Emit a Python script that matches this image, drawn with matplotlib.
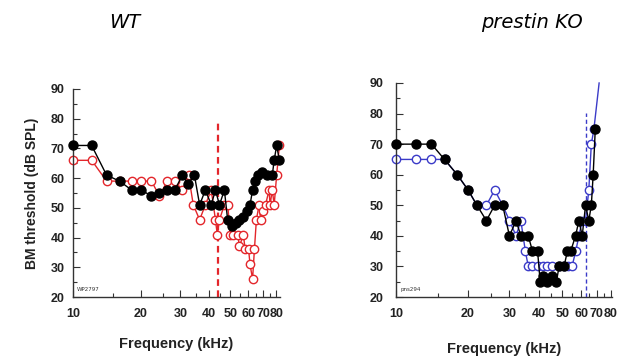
import matplotlib
matplotlib.use("Agg")
import matplotlib.pyplot as plt
from matplotlib.ticker import FixedLocator, NullFormatter

# ---------------- data ----------------
wt_black_f = [10, 12.1, 14.1, 16.1, 18.2, 20.1, 22.3, 24.2, 26.2, 28.3, 30.6, 32.4, 34.6,
              36.5, 38.7, 41.1, 42.9, 44.7, 47.0, 48.6, 50.8, 53.0, 54.8, 57.1, 59.0,
              61.1, 62.7, 64.6, 66.6, 69.4, 72.5, 76.7, 78.2, 80.2, 82.5]
wt_black_db = [71, 71, 61, 59, 56, 56, 54, 55, 56, 56, 61, 58, 61,
               51, 56, 51, 56, 51, 56, 46, 44, 45, 46, 47, 49,
               51, 56, 59, 61, 62, 61, 61, 66, 71, 66]

wt_red_f = [10, 12.1, 14.1, 16.1, 18.2, 20.1, 22.3, 24.2, 26.2, 28.3, 30.6, 32.6, 34.2,
            36.5, 38.7, 41.1, 42.9, 43.7, 44.7, 47.0, 48.6, 50.0, 51.5, 53.9, 54.8,
            57.1, 58.1, 60.2, 61.1, 62.7, 63.9, 65.2, 67.0, 68.1, 69.8, 71.6, 74.2,
            75.0, 76.7, 78.2, 80.2, 82.5]
wt_red_db = [66, 66, 59, 59, 59, 59, 59, 54, 59, 59, 56, 61, 51,
             46, 51, 56, 46, 41, 46, 51, 51, 41, 41, 41, 37,
             41, 36, 36, 31, 26, 36, 46, 51, 46, 49, 51, 56,
             51, 56, 51, 61, 71]

ko_black_f = [10, 12.1, 14.1, 16.0, 18.1, 20.1, 21.9, 24.0, 26.0, 28.1, 30.0, 32.0, 33.5,
              36.0, 37.5, 39.4, 40.4, 41.6, 43.3, 45.5, 47.3, 48.5, 50.9, 52.6, 54.3,
              56.9, 58.8, 60.7, 62.7, 64.7, 66.3, 67.5, 68.9]
ko_black_db = [70, 70, 70, 65, 60, 55, 50, 45, 50, 50, 40, 45, 40,
               40, 35, 35, 25, 27, 25, 27, 25, 30, 30, 35, 35,
               40, 45, 40, 50, 45, 50, 60, 75]

ko_blue_f = [10, 12.1, 14.1, 16.0, 18.1, 20.1, 21.9, 24.0, 26.0, 28.1, 30.0, 32.0, 33.5,
             35.0, 36.0, 37.5, 39.4, 41.6, 43.3, 45.5, 48.5, 50.9, 53.0, 55.0,
             57.0, 58.8, 60.7, 62.7, 64.7, 66.3, 68.0, 71.5]
ko_blue_db = [65, 65, 65, 65, 60, 55, 50, 50, 55, 50, 45, 40, 45,
              35, 30, 30, 30, 30, 30, 30, 30, 30, 30, 30,
              35, 40, 45, 45, 55, 70, 75, 90]

wt_cut_f = 44.0
ko_cut_f = 63.0

x_ticks = [10, 20, 30, 40, 50, 60, 70, 80]
x_minor = [15, 25, 35, 45, 55, 65, 75]
y_ticks = [20, 30, 40, 50, 60, 70, 80, 90]
y_minor = [25, 35, 45, 55, 65, 75, 85]

RED = "#e3262b"
BLUE = "#3b3bc8"
TICKFONT = dict(family="Liberation Sans", weight="bold", size=9)

W, H = 618, 362
fig = plt.figure(figsize=(W / 100, H / 100), dpi=100)


def make_ax(x0, x1, ytop, ybot, xmax):
    ax = fig.add_axes([x0 / W, 1 - ybot / H, (x1 - x0) / W, (ybot - ytop) / H])
    ax.set_xscale("log")
    ax.set_xlim(10, xmax)
    ax.set_ylim(20, 90)
    ax.spines["top"].set_visible(False)
    ax.spines["right"].set_visible(False)
    for s in ("left", "bottom"):
        ax.spines[s].set_linewidth(1.0)
        ax.spines[s].set_color("#333333")
    ax.xaxis.set_major_locator(FixedLocator(x_ticks))
    ax.xaxis.set_minor_locator(FixedLocator(x_minor))
    ax.xaxis.set_minor_formatter(NullFormatter())
    ax.set_xticklabels([str(t) for t in x_ticks])
    ax.yaxis.set_major_locator(FixedLocator(y_ticks))
    ax.yaxis.set_minor_locator(FixedLocator(y_minor))
    ax.tick_params(which="major", direction="in", length=5, width=0.8, color="#333333")
    ax.tick_params(which="minor", direction="in", length=3, width=0.8, color="#333333")
    ax.tick_params(axis="x", which="major", pad=8)
    for lab in ax.get_xticklabels() + ax.get_yticklabels():
        lab.set_fontproperties(TICKFONT)
        lab.set_color("#222222")
    return ax


# ---------------- WT ----------------
ax1 = make_ax(73, 280, 89, 297, 83)
ax1.tick_params(axis="y", which="major", pad=6)
ax1.axvline(wt_cut_f, ymin=0, ymax=0.84, color=RED, ls=(0, (3, 2)), lw=1.6, zorder=1)
ax1.plot(wt_red_f, wt_red_db, "-o", color=RED, mfc="white", mec=RED, ms=6,
         mew=1.0, lw=1.0, clip_on=False, zorder=2)
ax1.plot(wt_black_f, wt_black_db, "-o", color="black", ms=6.5, lw=1.0,
         clip_on=False, zorder=3)
ax1.text(0.02, 0.03, "WP2797", transform=ax1.transAxes, fontsize=4, color="#333333")
ax1.set_ylabel("BM threshold (dB SPL)", family="Liberation Sans", weight="bold",
               fontsize=10, color="#222222", labelpad=8)
ax1.set_xlabel("Frequency (kHz)", family="Liberation Sans", weight="bold",
               fontsize=10.5, color="#222222", labelpad=12)

# ---------------- prestin KO ----------------
ax2 = make_ax(396, 612, 83, 297, 81)
ax2.tick_params(axis="y", which="major", pad=9)
ax2.axvline(ko_cut_f, ymin=0, ymax=0.86, color=BLUE, ls=(0, (3, 2)), lw=1.0, zorder=1)
ax2.plot(ko_blue_f, ko_blue_db, "-o", color=BLUE, mfc="white", mec=BLUE, ms=6,
         mew=1.0, lw=1.0, clip_on=False, markevery=slice(0, len(ko_blue_f) - 1), zorder=2)
ax2.plot(ko_black_f, ko_black_db, "-o", color="black", ms=6.5, lw=1.0,
         clip_on=False, zorder=3)
ax2.text(0.02, 0.03, "pns294", transform=ax2.transAxes, fontsize=4, color="#333333")
ax2.set_xlabel("Frequency (kHz)", family="Liberation Sans", weight="bold",
               fontsize=10.5, color="#222222", labelpad=16)

# ---------------- titles ----------------
fig.text(125 / W, 1 - 22 / H, "WT", ha="center", va="center", style="italic",
         fontsize=14, family="DejaVu Sans")
fig.text(532 / W, 1 - 22 / H, "prestin KO", ha="center", va="center", style="italic",
         fontsize=14, family="DejaVu Sans")

fig.savefig("out.png", dpi=100)
